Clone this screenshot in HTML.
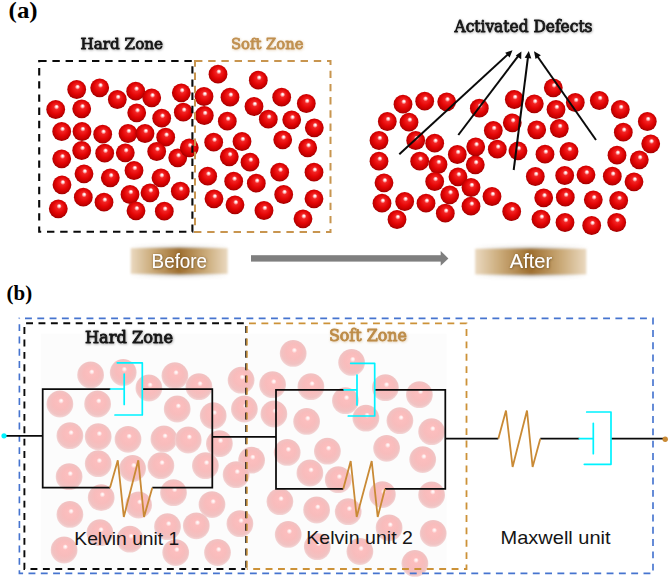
<!DOCTYPE html>
<html><head><meta charset="utf-8"><title>Figure</title>
<style>
html,body{margin:0;padding:0;background:#fff;}
svg{display:block}
.serif{font-family:"Liberation Serif",serif;font-weight:bold}
.sans{font-family:"Liberation Sans",sans-serif}
.zone{font-family:"DejaVu Serif","Liberation Serif",serif;stroke-linejoin:round}
</style></head><body>
<svg width="669" height="579" viewBox="0 0 669 579">
<defs>
<radialGradient id="gr" cx="0.5" cy="0.47" r="0.53" fx="0.557" fy="0.335">
<stop offset="0" stop-color="#fff"/><stop offset="0.05" stop-color="#fff"/><stop offset="0.14" stop-color="#ffb4b4"/><stop offset="0.26" stop-color="#f22424"/>
<stop offset="0.6" stop-color="#e40606"/><stop offset="0.85" stop-color="#c60000"/><stop offset="1" stop-color="#9c0000"/>
</radialGradient>
<radialGradient id="gp" cx="0.5" cy="0.48" r="0.52" fx="0.552" fy="0.366">
<stop offset="0" stop-color="#fff"/><stop offset="0.09" stop-color="#ffeaea"/><stop offset="0.2" stop-color="#fcbebe"/>
<stop offset="0.55" stop-color="#f8bcbc"/><stop offset="0.85" stop-color="#f1c2c2"/><stop offset="1" stop-color="#f3d6d6"/>
</radialGradient>
<linearGradient id="lb" x1="0" x2="1" y1="0" y2="0">
<stop offset="0" stop-color="#ead9c0"/><stop offset="0.22" stop-color="#cbab7a"/><stop offset="0.5" stop-color="#9f6f2f"/><stop offset="0.78" stop-color="#cbab7a"/><stop offset="1" stop-color="#ead9c0"/>
</linearGradient>
<linearGradient id="ls" x1="0" x2="1" y1="0" y2="0">
<stop offset="0" stop-color="#6a5a48" stop-opacity="0"/><stop offset="0.5" stop-color="#6a5a48" stop-opacity="0.55"/><stop offset="1" stop-color="#6a5a48" stop-opacity="0"/>
</linearGradient>
<filter id="b3" x="-10%" y="-50%" width="120%" height="200%"><feGaussianBlur stdDeviation="2.2"/></filter>
<filter id="bl" x="-10%" y="-30%" width="120%" height="160%"><feGaussianBlur stdDeviation="0.8"/></filter>
<filter id="dk" x="-10%" y="-40%" width="120%" height="190%"><feDropShadow dx="0.5" dy="0.6" stdDeviation="0.8" flood-color="#141414" flood-opacity="0.38"/></filter>
<filter id="dt" x="-10%" y="-40%" width="120%" height="190%"><feDropShadow dx="0.5" dy="0.6" stdDeviation="0.8" flood-color="#b98540" flood-opacity="0.42"/></filter>
<filter id="dw" x="-10%" y="-40%" width="120%" height="190%"><feDropShadow dx="0.4" dy="0.6" stdDeviation="0.8" flood-color="#5a3c14" flood-opacity="0.8"/></filter>
</defs>
<rect width="669" height="579" fill="#fff"/>

<!-- panel a -->
<text class="serif" x="8.6" y="17.6" font-size="24" textLength="29" lengthAdjust="spacingAndGlyphs">(a)</text>
<text class="zone" filter="url(#dk)" x="80.5" y="49.4" font-size="15.4" textLength="82.6" lengthAdjust="spacingAndGlyphs" fill="#141414" stroke="#141414" stroke-width="0.8">Hard Zone</text>
<text class="zone" filter="url(#dt)" x="231" y="49.4" font-size="15.4" textLength="72.5" lengthAdjust="spacingAndGlyphs" fill="#c09050" stroke="#c09050" stroke-width="0.8">Soft Zone</text>
<text class="zone" filter="url(#dk)" x="454.5" y="32" font-size="16.5" textLength="138" lengthAdjust="spacingAndGlyphs" fill="#141414" stroke="#141414" stroke-width="0.85">Activated Defects</text>
<g>
<circle cx="76.7" cy="89.5" r="9.4" fill="url(#gr)"/>
<circle cx="99.7" cy="87.8" r="9.4" fill="url(#gr)"/>
<circle cx="117.3" cy="99.5" r="9.4" fill="url(#gr)"/>
<circle cx="135.7" cy="91.2" r="9.4" fill="url(#gr)"/>
<circle cx="151.7" cy="97.8" r="9.4" fill="url(#gr)"/>
<circle cx="181.3" cy="92.8" r="9.4" fill="url(#gr)"/>
<circle cx="55.7" cy="109.5" r="9.4" fill="url(#gr)"/>
<circle cx="81.7" cy="108.8" r="9.4" fill="url(#gr)"/>
<circle cx="136.7" cy="112.8" r="9.4" fill="url(#gr)"/>
<circle cx="161.7" cy="118.2" r="9.4" fill="url(#gr)"/>
<circle cx="183.3" cy="112.2" r="9.4" fill="url(#gr)"/>
<circle cx="61.7" cy="131.5" r="9.4" fill="url(#gr)"/>
<circle cx="82.0" cy="131.5" r="9.4" fill="url(#gr)"/>
<circle cx="102.7" cy="134.2" r="9.4" fill="url(#gr)"/>
<circle cx="128.0" cy="133.5" r="9.4" fill="url(#gr)"/>
<circle cx="145.0" cy="133.5" r="9.4" fill="url(#gr)"/>
<circle cx="165.7" cy="137.2" r="9.4" fill="url(#gr)"/>
<circle cx="61.7" cy="158.8" r="9.4" fill="url(#gr)"/>
<circle cx="81.7" cy="150.5" r="9.4" fill="url(#gr)"/>
<circle cx="104.7" cy="153.2" r="9.4" fill="url(#gr)"/>
<circle cx="125.3" cy="152.8" r="9.4" fill="url(#gr)"/>
<circle cx="156.7" cy="151.5" r="9.4" fill="url(#gr)"/>
<circle cx="177.7" cy="157.8" r="9.4" fill="url(#gr)"/>
<circle cx="189.3" cy="147.8" r="9.4" fill="url(#gr)"/>
<circle cx="62.0" cy="184.8" r="9.4" fill="url(#gr)"/>
<circle cx="84.0" cy="173.8" r="9.4" fill="url(#gr)"/>
<circle cx="110.3" cy="177.8" r="9.4" fill="url(#gr)"/>
<circle cx="134.0" cy="170.5" r="9.4" fill="url(#gr)"/>
<circle cx="161.0" cy="177.8" r="9.4" fill="url(#gr)"/>
<circle cx="58.3" cy="208.8" r="9.4" fill="url(#gr)"/>
<circle cx="83.3" cy="197.2" r="9.4" fill="url(#gr)"/>
<circle cx="104.0" cy="202.2" r="9.4" fill="url(#gr)"/>
<circle cx="130.0" cy="194.5" r="9.4" fill="url(#gr)"/>
<circle cx="150.0" cy="192.8" r="9.4" fill="url(#gr)"/>
<circle cx="180.3" cy="191.2" r="9.4" fill="url(#gr)"/>
<circle cx="136.0" cy="210.8" r="9.4" fill="url(#gr)"/>
<circle cx="164.3" cy="211.2" r="9.4" fill="url(#gr)"/>
<circle cx="218.0" cy="74.2" r="9.4" fill="url(#gr)"/>
<circle cx="258.3" cy="80.2" r="9.4" fill="url(#gr)"/>
<circle cx="204.0" cy="96.5" r="9.4" fill="url(#gr)"/>
<circle cx="230.0" cy="97.2" r="9.4" fill="url(#gr)"/>
<circle cx="281.7" cy="97.2" r="9.4" fill="url(#gr)"/>
<circle cx="306.3" cy="103.5" r="9.4" fill="url(#gr)"/>
<circle cx="254.0" cy="106.5" r="9.4" fill="url(#gr)"/>
<circle cx="204.3" cy="115.5" r="9.4" fill="url(#gr)"/>
<circle cx="227.3" cy="121.2" r="9.4" fill="url(#gr)"/>
<circle cx="268.3" cy="119.2" r="9.4" fill="url(#gr)"/>
<circle cx="291.7" cy="119.8" r="9.4" fill="url(#gr)"/>
<circle cx="314.3" cy="127.8" r="9.4" fill="url(#gr)"/>
<circle cx="213.7" cy="142.2" r="9.4" fill="url(#gr)"/>
<circle cx="242.0" cy="141.5" r="9.4" fill="url(#gr)"/>
<circle cx="282.7" cy="139.8" r="9.4" fill="url(#gr)"/>
<circle cx="307.7" cy="147.8" r="9.4" fill="url(#gr)"/>
<circle cx="229.3" cy="156.8" r="9.4" fill="url(#gr)"/>
<circle cx="250.0" cy="162.2" r="9.4" fill="url(#gr)"/>
<circle cx="207.7" cy="176.2" r="9.4" fill="url(#gr)"/>
<circle cx="233.7" cy="181.2" r="9.4" fill="url(#gr)"/>
<circle cx="256.3" cy="183.2" r="9.4" fill="url(#gr)"/>
<circle cx="279.7" cy="172.2" r="9.4" fill="url(#gr)"/>
<circle cx="314.0" cy="172.2" r="9.4" fill="url(#gr)"/>
<circle cx="214.0" cy="198.8" r="9.4" fill="url(#gr)"/>
<circle cx="235.0" cy="204.8" r="9.4" fill="url(#gr)"/>
<circle cx="283.7" cy="194.5" r="9.4" fill="url(#gr)"/>
<circle cx="314.0" cy="198.8" r="9.4" fill="url(#gr)"/>
<circle cx="264.0" cy="210.5" r="9.4" fill="url(#gr)"/>
<circle cx="303.0" cy="218.8" r="9.4" fill="url(#gr)"/>
<circle cx="403.0" cy="104.2" r="9.4" fill="url(#gr)"/>
<circle cx="424.7" cy="101.2" r="9.4" fill="url(#gr)"/>
<circle cx="446.7" cy="101.8" r="9.4" fill="url(#gr)"/>
<circle cx="387.3" cy="121.5" r="9.4" fill="url(#gr)"/>
<circle cx="409.0" cy="122.2" r="9.4" fill="url(#gr)"/>
<circle cx="479.3" cy="108.2" r="9.4" fill="url(#gr)"/>
<circle cx="514.3" cy="99.5" r="9.4" fill="url(#gr)"/>
<circle cx="534.3" cy="103.8" r="9.4" fill="url(#gr)"/>
<circle cx="553.3" cy="87.8" r="9.4" fill="url(#gr)"/>
<circle cx="556.0" cy="109.5" r="9.4" fill="url(#gr)"/>
<circle cx="575.3" cy="102.5" r="9.4" fill="url(#gr)"/>
<circle cx="379.0" cy="140.5" r="9.4" fill="url(#gr)"/>
<circle cx="415.7" cy="140.5" r="9.4" fill="url(#gr)"/>
<circle cx="434.7" cy="143.2" r="9.4" fill="url(#gr)"/>
<circle cx="493.3" cy="130.5" r="9.4" fill="url(#gr)"/>
<circle cx="512.3" cy="122.8" r="9.4" fill="url(#gr)"/>
<circle cx="536.7" cy="129.8" r="9.4" fill="url(#gr)"/>
<circle cx="559.3" cy="128.5" r="9.4" fill="url(#gr)"/>
<circle cx="379.0" cy="161.2" r="9.4" fill="url(#gr)"/>
<circle cx="419.7" cy="161.2" r="9.4" fill="url(#gr)"/>
<circle cx="438.0" cy="164.5" r="9.4" fill="url(#gr)"/>
<circle cx="457.3" cy="154.5" r="9.4" fill="url(#gr)"/>
<circle cx="475.7" cy="146.8" r="9.4" fill="url(#gr)"/>
<circle cx="497.3" cy="149.2" r="9.4" fill="url(#gr)"/>
<circle cx="518.0" cy="150.8" r="9.4" fill="url(#gr)"/>
<circle cx="545.0" cy="154.2" r="9.4" fill="url(#gr)"/>
<circle cx="569.0" cy="151.5" r="9.4" fill="url(#gr)"/>
<circle cx="384.0" cy="182.8" r="9.4" fill="url(#gr)"/>
<circle cx="434.7" cy="181.5" r="9.4" fill="url(#gr)"/>
<circle cx="458.0" cy="176.8" r="9.4" fill="url(#gr)"/>
<circle cx="475.3" cy="164.8" r="9.4" fill="url(#gr)"/>
<circle cx="535.3" cy="176.5" r="9.4" fill="url(#gr)"/>
<circle cx="564.7" cy="175.5" r="9.4" fill="url(#gr)"/>
<circle cx="382.0" cy="203.2" r="9.4" fill="url(#gr)"/>
<circle cx="404.7" cy="201.5" r="9.4" fill="url(#gr)"/>
<circle cx="426.0" cy="203.2" r="9.4" fill="url(#gr)"/>
<circle cx="449.7" cy="194.8" r="9.4" fill="url(#gr)"/>
<circle cx="471.0" cy="187.5" r="9.4" fill="url(#gr)"/>
<circle cx="492.0" cy="196.5" r="9.4" fill="url(#gr)"/>
<circle cx="471.0" cy="206.2" r="9.4" fill="url(#gr)"/>
<circle cx="445.3" cy="213.2" r="9.4" fill="url(#gr)"/>
<circle cx="397.0" cy="219.5" r="9.4" fill="url(#gr)"/>
<circle cx="511.7" cy="211.5" r="9.4" fill="url(#gr)"/>
<circle cx="543.7" cy="197.8" r="9.4" fill="url(#gr)"/>
<circle cx="565.3" cy="197.2" r="9.4" fill="url(#gr)"/>
<circle cx="541.0" cy="219.2" r="9.4" fill="url(#gr)"/>
<circle cx="565.0" cy="222.5" r="9.4" fill="url(#gr)"/>
<circle cx="599.3" cy="100.5" r="9.4" fill="url(#gr)"/>
<circle cx="620.3" cy="109.5" r="9.4" fill="url(#gr)"/>
<circle cx="647.3" cy="121.5" r="9.4" fill="url(#gr)"/>
<circle cx="623.3" cy="132.2" r="9.4" fill="url(#gr)"/>
<circle cx="650.7" cy="143.8" r="9.4" fill="url(#gr)"/>
<circle cx="617.0" cy="155.2" r="9.4" fill="url(#gr)"/>
<circle cx="639.3" cy="159.8" r="9.4" fill="url(#gr)"/>
<circle cx="586.0" cy="174.8" r="9.4" fill="url(#gr)"/>
<circle cx="612.3" cy="176.2" r="9.4" fill="url(#gr)"/>
<circle cx="634.0" cy="181.8" r="9.4" fill="url(#gr)"/>
<circle cx="593.3" cy="199.8" r="9.4" fill="url(#gr)"/>
<circle cx="618.7" cy="200.5" r="9.4" fill="url(#gr)"/>
<circle cx="591.7" cy="225.5" r="9.4" fill="url(#gr)"/>
<circle cx="616.7" cy="222.5" r="9.4" fill="url(#gr)"/>
</g>
<rect x="39.2" y="61" width="153.2" height="170.8" fill="none" stroke="#0a0a0a" stroke-width="2.1" stroke-dasharray="7.4 5.8"/>
<rect x="195" y="61" width="135.5" height="171" fill="none" stroke="#c8954f" stroke-width="2" stroke-dasharray="7.4 5.8"/>
<!-- arrows -->
<g stroke="#0a0a0a" stroke-width="2" fill="#0a0a0a">
<line x1="399.3" y1="154.3" x2="510" y2="52.5"/>
<line x1="458.3" y1="135" x2="519.5" y2="54.3"/>
<line x1="513.7" y1="170" x2="528.3" y2="54.5"/>
<line x1="596" y1="140" x2="535.6" y2="53.8"/>
</g>
<g fill="#0a0a0a">
<polygon points="512.5,50.2 509.6,57.6 505.2,52.8"/>
<polygon points="521.4,51.6 521.2,59.3 515.8,55.6"/>
<polygon points="528.8,51 531.3,58.6 524.7,57.8"/>
<polygon points="534,51.2 540.9,55.3 535.5,59.1"/>
</g>
<!-- before / after -->
<rect x="131" y="247" width="96.5" height="28.5" fill="url(#ls)" filter="url(#b3)"/>
<rect x="130.8" y="248.2" width="96.8" height="25.6" fill="url(#lb)" filter="url(#bl)"/>
<rect x="475.5" y="247.5" width="110.5" height="28.5" fill="url(#ls)" filter="url(#b3)"/>
<rect x="475.2" y="248.8" width="111" height="25.6" fill="url(#lb)" filter="url(#bl)"/>
<text class="sans" filter="url(#dw)" x="151.6" y="267.8" font-size="20.2" fill="#fff" textLength="55.5" lengthAdjust="spacingAndGlyphs">Before</text>
<text class="sans" filter="url(#dw)" x="509.8" y="267.8" font-size="20.2" fill="#fff" textLength="42.3" lengthAdjust="spacingAndGlyphs">After</text>
<rect x="251" y="255.2" width="190.5" height="6.4" fill="#7f7f7f"/>
<polygon points="440.7,251 448.4,258.4 440.7,265.8" fill="#7f7f7f"/>

<!-- panel b -->
<text class="serif" x="6.6" y="299.9" font-size="20.8" textLength="25.6" lengthAdjust="spacingAndGlyphs">(b)</text>
<rect x="41" y="333.7" width="405.6" height="236" fill="#fcfcfc"/>
<g>
<circle cx="90.6" cy="375.0" r="13.4" fill="url(#gp)"/>
<circle cx="123.2" cy="372.4" r="13.4" fill="url(#gp)"/>
<circle cx="148.9" cy="388.0" r="13.4" fill="url(#gp)"/>
<circle cx="174.9" cy="375.7" r="13.4" fill="url(#gp)"/>
<circle cx="198.9" cy="386.7" r="13.4" fill="url(#gp)"/>
<circle cx="59.9" cy="404.0" r="13.4" fill="url(#gp)"/>
<circle cx="97.6" cy="404.0" r="13.4" fill="url(#gp)"/>
<circle cx="177.2" cy="409.0" r="13.4" fill="url(#gp)"/>
<circle cx="213.2" cy="415.7" r="13.4" fill="url(#gp)"/>
<circle cx="69.9" cy="435.7" r="13.4" fill="url(#gp)"/>
<circle cx="98.2" cy="436.7" r="13.4" fill="url(#gp)"/>
<circle cx="128.0" cy="439.3" r="13.4" fill="url(#gp)"/>
<circle cx="163.9" cy="439.0" r="13.4" fill="url(#gp)"/>
<circle cx="188.2" cy="440.0" r="13.4" fill="url(#gp)"/>
<circle cx="219.4" cy="443.7" r="13.4" fill="url(#gp)"/>
<circle cx="98.2" cy="463.7" r="13.4" fill="url(#gp)"/>
<circle cx="160.9" cy="465.7" r="13.4" fill="url(#gp)"/>
<circle cx="205.4" cy="465.7" r="13.4" fill="url(#gp)"/>
<circle cx="69.1" cy="476.7" r="13.4" fill="url(#gp)"/>
<circle cx="132.6" cy="468.4" r="13.4" fill="url(#gp)"/>
<circle cx="101.2" cy="497.7" r="13.4" fill="url(#gp)"/>
<circle cx="138.6" cy="505.0" r="13.4" fill="url(#gp)"/>
<circle cx="173.5" cy="492.7" r="13.4" fill="url(#gp)"/>
<circle cx="212.0" cy="504.6" r="13.4" fill="url(#gp)"/>
<circle cx="69.9" cy="514.4" r="13.4" fill="url(#gp)"/>
<circle cx="99.9" cy="532.7" r="13.4" fill="url(#gp)"/>
<circle cx="167.5" cy="526.7" r="13.4" fill="url(#gp)"/>
<circle cx="196.3" cy="525.8" r="13.4" fill="url(#gp)"/>
<circle cx="64.1" cy="550.0" r="13.4" fill="url(#gp)"/>
<circle cx="129.9" cy="539.2" r="13.4" fill="url(#gp)"/>
<circle cx="175.7" cy="552.6" r="13.4" fill="url(#gp)"/>
<circle cx="217.5" cy="552.5" r="13.4" fill="url(#gp)"/>
<circle cx="241.1" cy="380.2" r="13.4" fill="url(#gp)"/>
<circle cx="244.4" cy="409.0" r="13.4" fill="url(#gp)"/>
<circle cx="251.6" cy="460.2" r="13.4" fill="url(#gp)"/>
<circle cx="236.1" cy="474.7" r="13.4" fill="url(#gp)"/>
<circle cx="293.2" cy="353.4" r="13.4" fill="url(#gp)"/>
<circle cx="272.6" cy="384.7" r="13.4" fill="url(#gp)"/>
<circle cx="310.9" cy="386.7" r="13.4" fill="url(#gp)"/>
<circle cx="273.9" cy="414.0" r="13.4" fill="url(#gp)"/>
<circle cx="306.6" cy="421.4" r="13.4" fill="url(#gp)"/>
<circle cx="351.6" cy="362.4" r="13.4" fill="url(#gp)"/>
<circle cx="345.4" cy="400.7" r="13.4" fill="url(#gp)"/>
<circle cx="385.4" cy="387.7" r="13.4" fill="url(#gp)"/>
<circle cx="365.9" cy="418.2" r="13.4" fill="url(#gp)"/>
<circle cx="399.9" cy="420.7" r="13.4" fill="url(#gp)"/>
<circle cx="419.4" cy="394.7" r="13.4" fill="url(#gp)"/>
<circle cx="287.2" cy="452.4" r="13.4" fill="url(#gp)"/>
<circle cx="327.4" cy="451.2" r="13.4" fill="url(#gp)"/>
<circle cx="386.6" cy="448.3" r="13.4" fill="url(#gp)"/>
<circle cx="309.9" cy="473.0" r="13.4" fill="url(#gp)"/>
<circle cx="338.2" cy="479.7" r="13.4" fill="url(#gp)"/>
<circle cx="239.9" cy="523.7" r="13.4" fill="url(#gp)"/>
<circle cx="279.9" cy="501.7" r="13.4" fill="url(#gp)"/>
<circle cx="316.6" cy="510.0" r="13.4" fill="url(#gp)"/>
<circle cx="348.2" cy="511.7" r="13.4" fill="url(#gp)"/>
<circle cx="288.2" cy="534.4" r="13.4" fill="url(#gp)"/>
<circle cx="389.1" cy="527.8" r="13.4" fill="url(#gp)"/>
<circle cx="359.9" cy="551.5" r="13.4" fill="url(#gp)"/>
<circle cx="317.3" cy="546.7" r="13.4" fill="url(#gp)"/>
<circle cx="414.9" cy="563.4" r="13.4" fill="url(#gp)"/>
<circle cx="422.7" cy="459.6" r="13.4" fill="url(#gp)"/>
<circle cx="431.6" cy="431.7" r="13.4" fill="url(#gp)"/>
<circle cx="382.4" cy="494.6" r="13.4" fill="url(#gp)"/>
<circle cx="431.6" cy="495.0" r="13.4" fill="url(#gp)"/>
<circle cx="433.2" cy="533.4" r="13.4" fill="url(#gp)"/>
</g>
<rect x="19.4" y="318.4" width="633.6" height="255" fill="none" stroke="#4674cf" stroke-width="1.65" stroke-dasharray="6.9 5.4" stroke-dashoffset="6.7"/>
<path d="M245.2 323.3H24.4V569H245.2" fill="none" stroke="#0a0a0a" stroke-width="1.9" stroke-dasharray="6.9 5.5" stroke-dashoffset="11"/>
<path d="M246 323.3V569" fill="none" stroke="#0a0a0a" stroke-width="1.5" stroke-dasharray="7 5.35" stroke-dashoffset="9.55"/>
<path d="M247 323.3V569" fill="none" stroke="#cc9238" stroke-width="1.5" stroke-dasharray="7 5.35" stroke-dashoffset="9.55"/>
<path d="M246.7 323.3H466.5V569H246.7" fill="none" stroke="#cc9238" stroke-width="1.8" stroke-dasharray="6.9 5.5" stroke-dashoffset="10.1"/>
<text class="zone" filter="url(#dk)" x="85" y="342.8" font-size="16.8" textLength="88" lengthAdjust="spacingAndGlyphs" fill="#141414" stroke="#141414" stroke-width="0.9">Hard Zone</text>
<text class="zone" filter="url(#dt)" x="328.9" y="341.2" font-size="16.8" textLength="78" lengthAdjust="spacingAndGlyphs" fill="#bd8c48" stroke="#bd8c48" stroke-width="0.9">Soft Zone</text>

<!-- circuit -->
<g fill="none" stroke="#0a0a0a" stroke-width="1.75" stroke-linejoin="miter">
<path d="M4 435.8H42.7"/>
<path d="M110.5 389.1H42.7V487.7H110"/>
<path d="M142.3 389.1H212.3V487.7H152.3"/>
<path d="M212.3 436.8H276"/>
<path d="M344 389.8H276V488.8H343.3"/>
<path d="M374.7 389.8H445.3V488.8H385"/>
<path d="M445.3 438.7H498.3"/>
<path d="M540.3 438.7H579.3"/>
<path d="M611 438.7H664.5"/>
</g>
<g fill="none" stroke="#00f2ff" stroke-width="1.7" stroke-linejoin="round" stroke-linecap="round">
<path d="M117.3 362.8H142.3V415H115"/><path d="M110.5 389H124.2M124.2 374V404.5"/>
<path d="M350.7 363.3H374.7V416H348.3"/><path d="M344 389.8H357M357 375V405"/>
<path d="M586.7 412H611V464.3H584.3"/><path d="M579.3 438.7H593.3M593.3 423.3V453.7"/>
</g>
<g fill="none" stroke="#c98a35" stroke-width="1.8" stroke-linejoin="miter">
<path d="M110 487.7L117.8 460.3L123.8 517L138.3 460.3L144 517L152.3 487.7"/>
<path d="M343.3 488.8L350.7 461L356.7 517L371.7 461L377.7 517L385 488.8"/>
<path d="M498.3 438.7L506 410.5L512.6 467L527 410.5L532.6 467L540.3 438.7"/>
</g>
<circle cx="4" cy="435.8" r="2.6" fill="#00f2ff"/>
<circle cx="665.2" cy="439.2" r="2.7" fill="#c98a35"/>
<text class="sans" x="74.3" y="544.6" font-size="18.4" fill="#151515" textLength="105" lengthAdjust="spacingAndGlyphs">Kelvin unit 1</text>
<text class="sans" x="306.3" y="544.2" font-size="18.4" fill="#151515" textLength="106.6" lengthAdjust="spacingAndGlyphs">Kelvin unit 2</text>
<text class="sans" x="500.6" y="544.2" font-size="18.4" fill="#151515" textLength="110" lengthAdjust="spacingAndGlyphs">Maxwell unit</text>
</svg>
</body></html>
